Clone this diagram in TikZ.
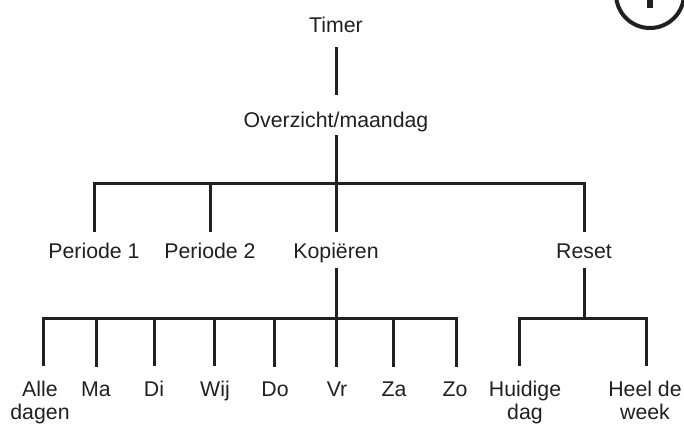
\documentclass[tikz,border=0pt]{standalone}
\usepackage{fontspec}
\setmainfont{Liberation Sans}
\definecolor{ink}{HTML}{231F20}
\begin{document}
\begin{tikzpicture}[x=1pt,y=-1pt,
  conn/.style={draw=ink, line width=3pt},
  lbl/.style={inner sep=0pt, text=ink, font=\fontsize{21.3}{22.5}\selectfont,
              text height=15pt, text depth=5pt, anchor=base},
  leaf/.style={inner sep=0pt, text=ink, font=\fontsize{21.3}{23}\selectfont,
               align=center, anchor=base}]
\useasboundingbox (0,0) rectangle (684,423);

% top-right emblem
\begin{scope}
\clip (0,0) rectangle (684,423);
\draw[ink, line width=4pt] (650,-6) circle (34);
\fill[ink] (647,-2) rectangle (653,8);
\end{scope}

% nodes
\node[lbl] (timer) at (336,32) {Timer};
\node[lbl] (ovz) at (336,127) {Overzicht/maandag};
\node[lbl] (p1) at (94,258) {Periode 1};
\node[lbl] (p2) at (210,258) {Periode 2};
\node[lbl] (kop) at (336,258) {Kopiëren};
\node[lbl] (reset) at (584,258) {Reset};

\node[leaf] (alle) at (40,419) {Alle\\dagen};
\node[leaf] (ma) at (96,396) {Ma};
\node[leaf] (di) at (154,396) {Di};
\node[leaf] (wij) at (215,396) {Wij};
\node[leaf] (do) at (275,396) {Do};
\node[leaf] (vr) at (337,396) {Vr};
\node[leaf] (za) at (394,396) {Za};
\node[leaf] (zo) at (455,396) {Zo};
\node[leaf] (hui) at (525,419) {Huidige\\dag};
\node[leaf] (heel) at (645,419) {Heel de\\week};

% junctions
\coordinate (j1) at (336,183);
\coordinate (j2) at (336,318);
\coordinate (j3) at (584,318);

% connectors
\draw[conn, shorten <=10pt, shorten >=17pt] (timer) -- (ovz);
\draw[conn, shorten <=3pt] (ovz) -- (j1);
\draw[conn, shorten >=11pt] (j1) -| (p1);
\draw[conn, shorten >=11pt] (j1) -| (p2);
\draw[conn, shorten >=11pt] (j1) -- (kop);
\draw[conn, shorten >=11pt] (j1) -| (reset);
\draw[conn, shorten <=5pt] (kop) -- (j2);
\draw[conn, shorten <=5pt] (reset) -- (j3);

\draw[conn, shorten >=14pt] (j2) -| ([xshift=3pt]alle.north);
\draw[conn, shorten >=14pt] (j2) -| (ma.north);
\draw[conn, shorten >=14pt] (j2) -| (di.north);
\draw[conn, shorten >=14pt] (j2) -| ([xshift=-1pt]wij.north);
\draw[conn, shorten >=14pt] (j2) -| ([xshift=-1pt]do.north);
\draw[conn, shorten >=14pt] (j2) -| ([xshift=-1pt]vr.north);
\draw[conn, shorten >=14pt] (j2) -| ([xshift=-1pt]za.north);
\draw[conn, shorten >=14pt] (j2) -| ([xshift=1pt]zo.north);
\draw[conn, shorten >=14pt] (j3) -| ([xshift=-6pt]hui.north);
\draw[conn, shorten >=14pt] (j3) -| ([xshift=1pt]heel.north);
\end{tikzpicture}
\end{document}
